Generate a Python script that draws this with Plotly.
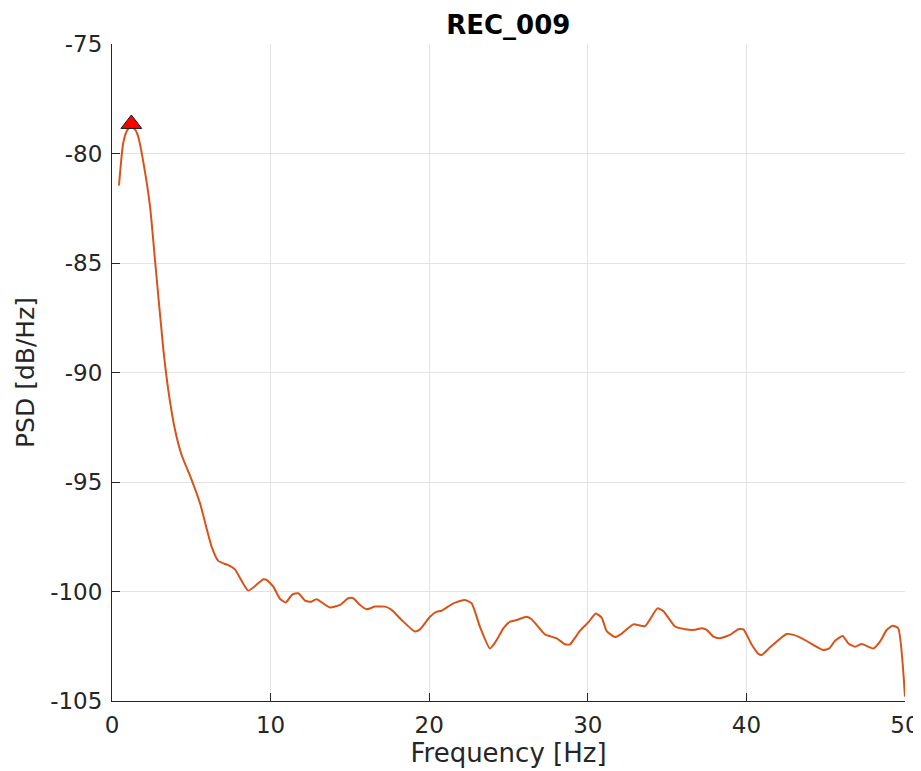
import plotly.graph_objects as go

freq = [0.44, 0.70, 0.95, 1.22, 1.50, 1.66, 1.97, 2.40, 2.71, 3.24, 3.55, 3.97, 4.39,
        5.02, 5.55, 6.28, 6.70, 7.33, 7.75, 8.59, 9.54, 9.75, 10.17, 10.59, 10.96,
        11.36, 11.75, 12.17, 12.55, 12.90, 13.74, 14.38, 14.90, 15.21, 15.64, 16.06,
        16.58, 17.21, 17.63, 18.26, 19.10, 19.42, 20.05, 20.47, 20.78, 21.52, 22.26,
        22.68, 23.20, 23.83, 24.26, 24.67, 25.10, 25.52, 26.15, 26.46, 27.30, 28.04,
        28.56, 28.88, 29.51, 30.04, 30.50, 30.88, 31.19, 31.72, 32.14, 32.87, 33.61,
        34.39, 34.77, 35.50, 36.13, 36.76, 37.18, 37.50, 37.92, 38.34, 38.97, 39.49,
        39.81, 40.34, 40.76, 40.97, 41.49, 42.54, 42.96, 43.59, 44.22, 44.85, 45.23,
        45.59, 46.07, 46.43, 46.85, 47.27, 48.00, 48.42, 48.84, 49.22, 49.57, 50.00]
psd = [-81.46, -79.55, -78.95, -78.75, -78.95, -79.25, -80.37, -82.43, -84.86, -88.97,
       -90.80, -92.60, -93.77, -94.90, -95.97, -97.95, -98.60, -98.80, -98.99, -99.96,
       -99.44, -99.47, -99.78, -100.33, -100.50, -100.14, -100.08, -100.42, -100.47,
       -100.35, -100.73, -100.61, -100.31, -100.31, -100.62, -100.81, -100.69, -100.69,
       -100.84, -101.30, -101.83, -101.73, -101.15, -100.92, -100.88, -100.54, -100.39,
       -100.54, -101.61, -102.60, -102.21, -101.68, -101.38, -101.30, -101.15, -101.27,
       -101.96, -102.14, -102.41, -102.41, -101.79, -101.40, -101.00, -101.20, -101.81,
       -102.08, -101.92, -101.50, -101.58, -100.77, -100.90, -101.60, -101.72, -101.75,
       -101.68, -101.75, -102.06, -102.13, -101.98, -101.72, -101.73, -102.43, -102.85,
       -102.90, -102.55, -101.94, -101.98, -102.17, -102.44, -102.67, -102.60, -102.25,
       -102.03, -102.37, -102.52, -102.40, -102.60, -102.29, -101.76, -101.56, -101.68,
       -104.80]

peak_freq = [1.22]
peak_psd = [-78.65]

x_ticks = [0, 10, 20, 30, 40, 50]
x_labels = ["0", "10", "20", "30", "40", "50"]
y_ticks = [-105, -100, -95, -90, -85, -80, -75]
y_labels = ["-105", "-100", "-95", "-90", "-85", "-80", "-75"]

fig = go.Figure()
fig.add_trace(go.Scatter(x=freq, y=psd, mode="lines",
                         line=dict(color="#D95319", width=2, shape="spline", smoothing=0.5),
                         showlegend=False, hoverinfo="skip"))
fig.add_trace(go.Scatter(x=peak_freq, y=peak_psd, mode="markers",
                         marker=dict(symbol="triangle-up", size=18, color="#FF0000",
                                     line=dict(color="#1a1a1a", width=1)),
                         showlegend=False))

font_family = "DejaVu Sans"
# The page body has an 8px default margin, so the figure is 913x763 and offsets shrink by 8.
fig.update_layout(
    width=913, height=763,
    margin=dict(l=104, r=16, t=36, b=70, autoexpand=False),
    paper_bgcolor="white", plot_bgcolor="white",
    font=dict(family=font_family, color="#262626", size=23),
    title=dict(text="<b>REC_009</b>", x=0.548, xanchor="center", y=0.978, yanchor="middle",
               font=dict(family=font_family, size=26, color="black")),
    xaxis=dict(range=[0, 50], tickvals=x_ticks, ticktext=x_labels, automargin=False,
               showgrid=True, gridcolor="#e3e3e3", gridwidth=1,
               showline=True, linecolor="#262626", linewidth=1,
               ticks="inside", ticklen=8, tickcolor="#262626",
               zeroline=False, tickfont=dict(size=23), ticklabelstandoff=3,
               title=dict(text="Frequency [Hz]", font=dict(size=26), standoff=2)),
    yaxis=dict(range=[-105, -75], tickvals=y_ticks, ticktext=y_labels, automargin=False,
               showgrid=True, gridcolor="#e3e3e3", gridwidth=1,
               showline=True, linecolor="#262626", linewidth=1,
               ticks="inside", ticklen=8, tickcolor="#262626",
               zeroline=False, tickfont=dict(size=23), ticklabelstandoff=4,
               title=dict(text="PSD [dB/Hz]", font=dict(size=25), standoff=8)),
)
fig.write_html("out.html")
